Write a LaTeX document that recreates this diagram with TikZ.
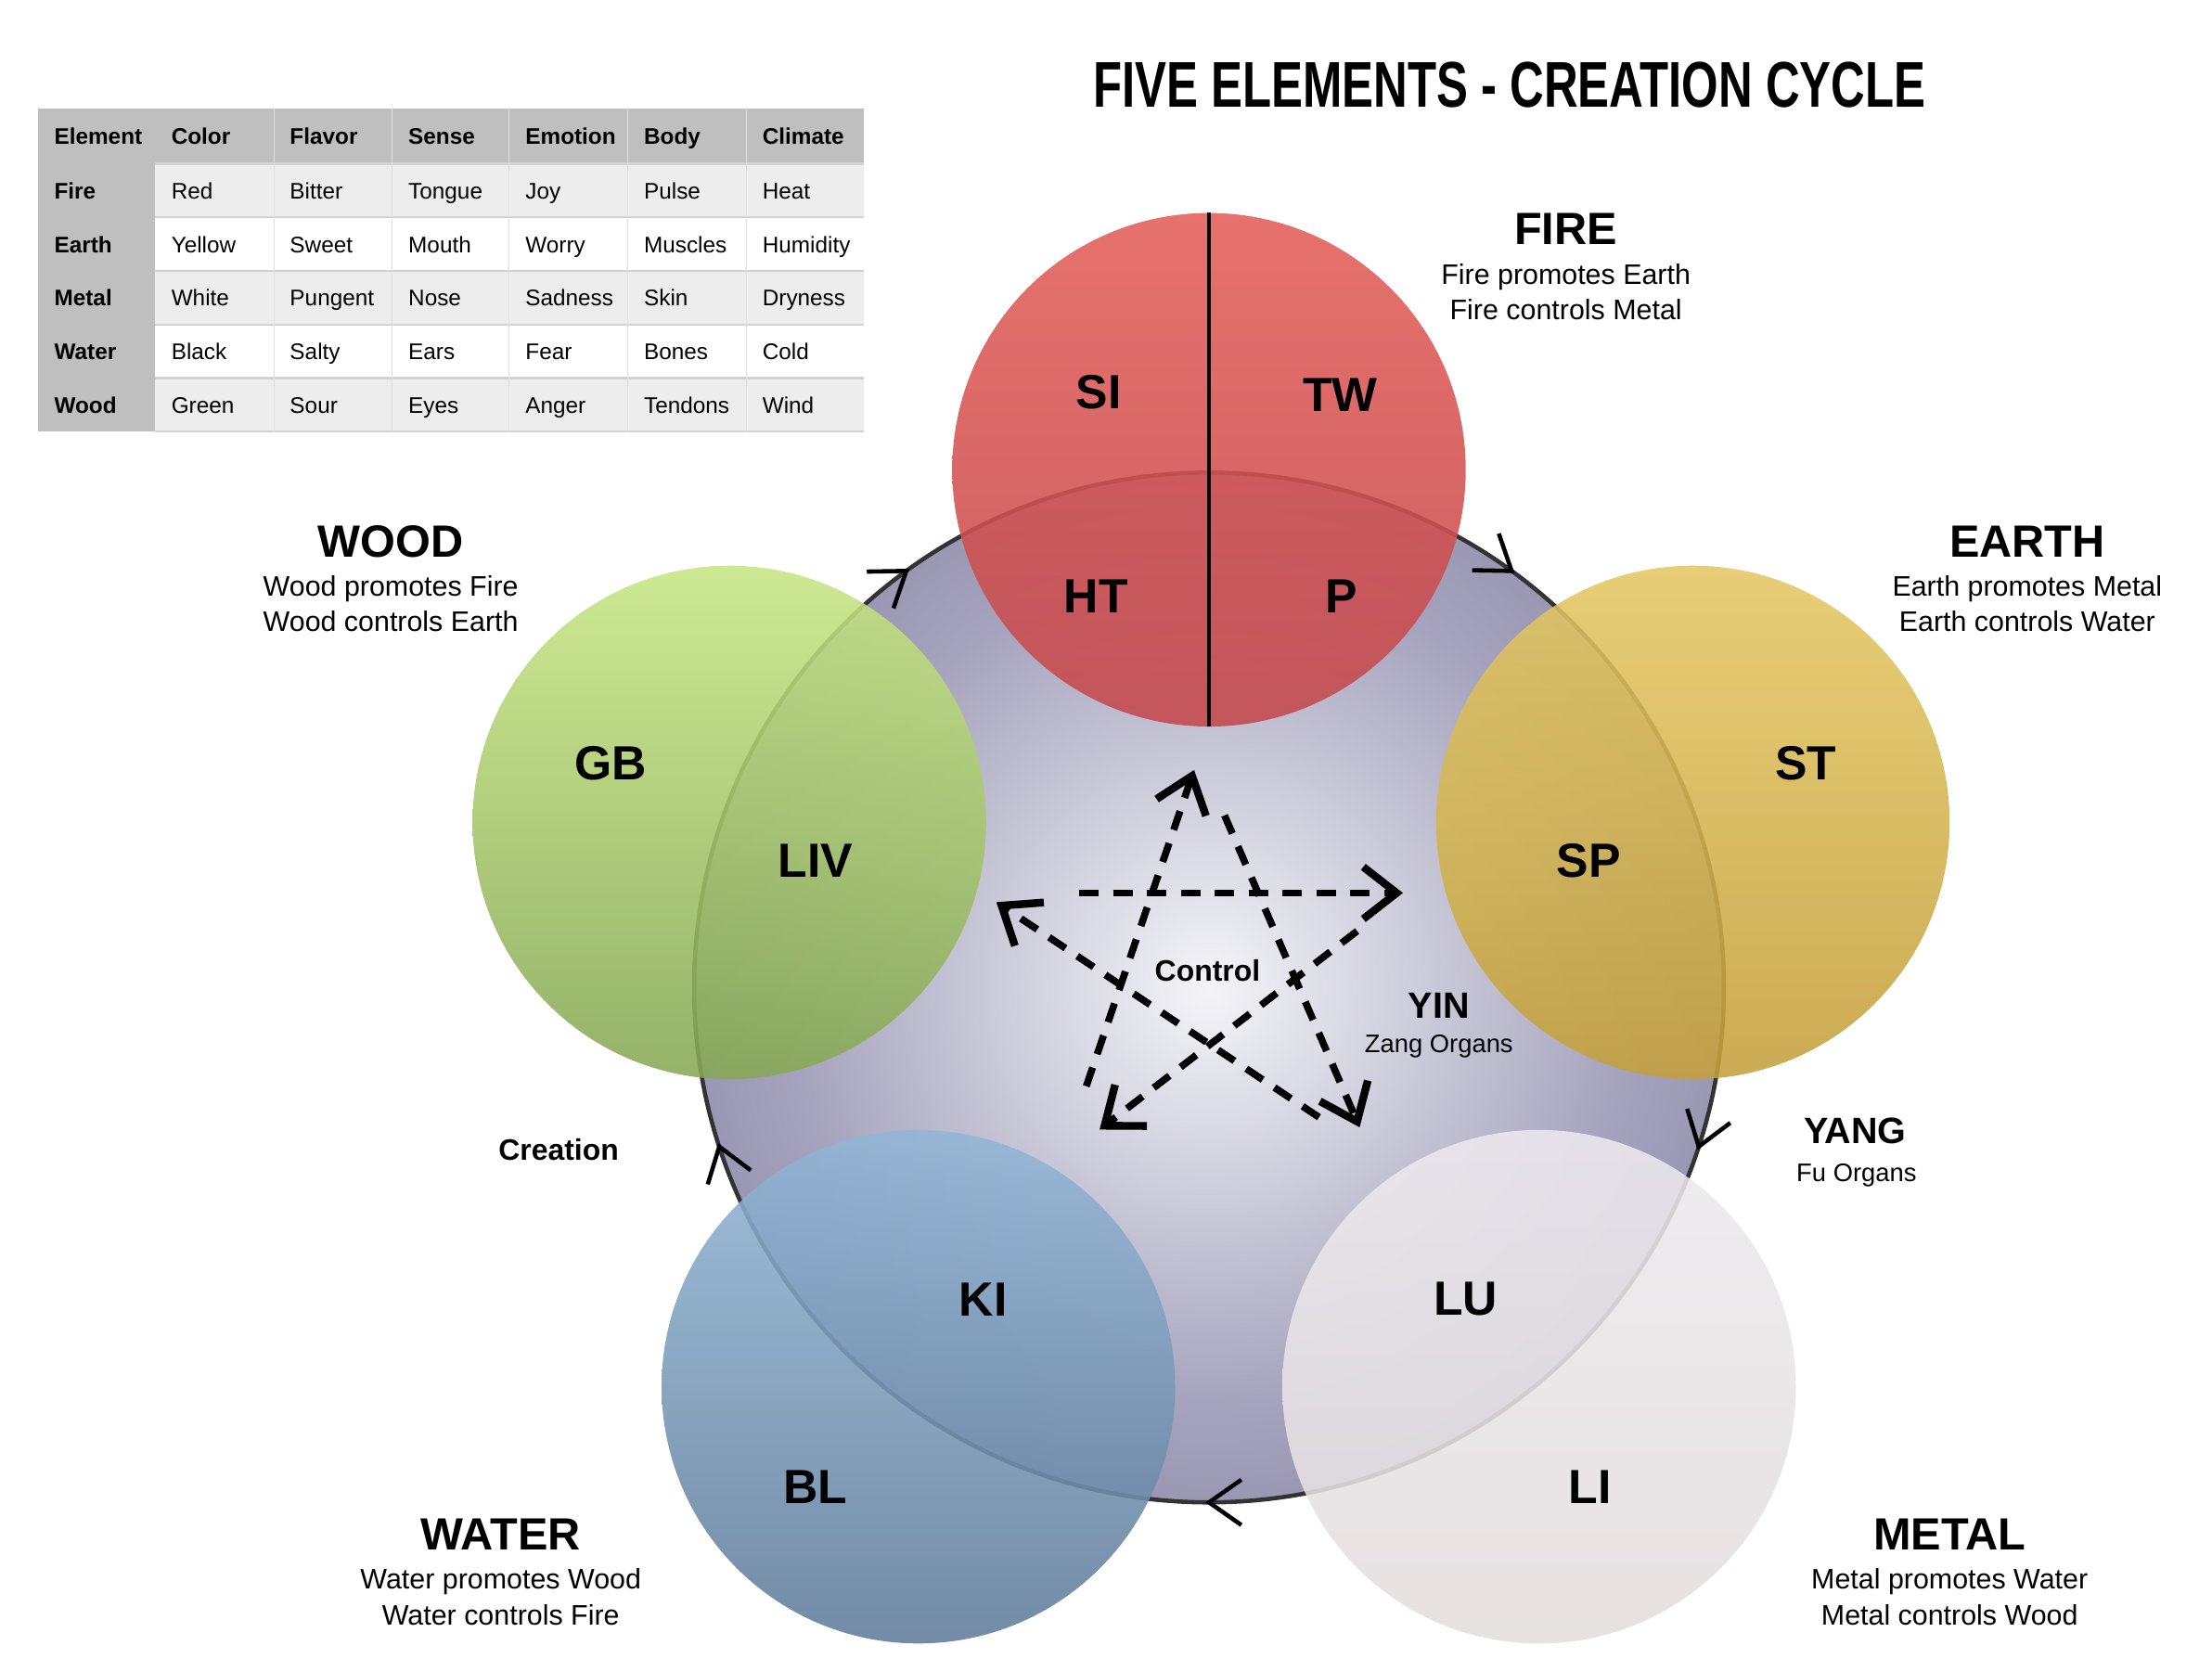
\documentclass[tikz,border=0pt]{standalone}
\usepackage{fontspec}
\usepackage{graphicx}
\setmainfont{Liberation Sans}
\usetikzlibrary{arrows.meta,calc}
\definecolor{cin}{HTML}{F4F4F8}
\definecolor{cmid}{HTML}{A3A1BB}
\definecolor{cout}{HTML}{615D85}
\pgfdeclareradialshading{bigrad}{\pgfpoint{0bp}{0bp}}{color(0bp)=(cin); color(21bp)=(cmid); color(50bp)=(cout)}
\tikzset{
 el/.style={circle,minimum size=364pt,inner sep=0pt,fill opacity=0.88,draw=none},
 org/.style={font=\fontsize{34}{36}\selectfont\bfseries},
 ttl/.style={font=\fontsize{32}{34}\selectfont\bfseries},
 sub/.style={font=\fontsize{20}{25}\selectfont,align=center},
 tb/.style={font=\fontsize{16}{18}\selectfont,anchor=base west},
 tbb/.style={tb,font=\fontsize{16}{18}\selectfont\bfseries},
 ctl/.style={line width=5pt,dash pattern=on 14pt off 10pt},
 ctltip/.style={line width=5.5pt,line join=miter,line cap=butt},
 chev/.style={line width=3pt,black}
}
\begin{document}
\begin{tikzpicture}[x=1pt,y=-1pt]
\useasboundingbox (0,0) rectangle (1568,1184);
\fill[white] (0,0) rectangle (1568,1184);
% title
\node (title) at (1070,60) {\resizebox{590pt}{32pt}{\bfseries FIVE ELEMENTS - CREATION CYCLE}};
% table
\fill[gray!50] (27,77) rectangle (612,116);
\fill[gray!50] (27,77) rectangle (110,306);
\foreach \r/\c in {0/gray!14,1/white,2/gray!14,3/white,4/gray!14}{
  \fill[\c] (110,116+38*\r) rectangle (612,154+38*\r);}
\foreach \r in {0,...,5}{\draw[gray!35,line width=1.5pt] (110,116+38*\r) -- (612,116+38*\r);}
\foreach \x in {194,278,361,445,529}{\draw[gray!25,line width=0.6pt] (\x,77) -- (\x,306);}
\foreach \t [count=\i from 0] in {Element,Color,Flavor,Sense,Emotion,Body,Climate}{
  \pgfmathsetmacro\xx{{27,110,194,278,361,445,529}[\i]+8}
  \node[tbb] (h\i) at (\xx,102) {\t};}
\foreach \row [count=\j from 0] in {{Fire,Red,Bitter,Tongue,Joy,Pulse,Heat},{Earth,Yellow,Sweet,Mouth,Worry,Muscles,Humidity},{Metal,White,Pungent,Nose,Sadness,Skin,Dryness},{Water,Black,Salty,Ears,Fear,Bones,Cold},{Wood,Green,Sour,Eyes,Anger,Tendons,Wind}}{
  \foreach \t [count=\i from 0] in \row {
    \pgfmathsetmacro\xx{{27,110,194,278,361,445,529}[\i]+8}
    \ifnum\i=0 \node[tbb] (c\j\i) at (\xx,141+38*\j) {\t};
    \else \node[tb] (c\j\i) at (\xx,141+38*\j) {\t};\fi}}
% big circle
\node[circle,minimum size=730pt,inner sep=0pt,shading=bigrad,draw=black!80,line width=3pt] (big) at (857,700) {};
% element circles
\node[el,top color={rgb,255:red,228;green,94;blue,88},bottom color={rgb,255:red,196;green,72;blue,76}] (fire) at (857,333) {};
\node[el,top color={rgb,255:red,228;green,200;blue,100},bottom color={rgb,255:red,196;green,160;blue,60}] (earth) at (1200,583) {};
\node[el,top color={rgb,255:red,198;green,230;blue,132},bottom color={rgb,255:red,134;green,168;blue,84}] (wood) at (517,583) {};
\node[el,top color={rgb,255:red,146;green,182;blue,214},bottom color={rgb,255:red,96;green,124;blue,154}] (water) at (651,983) {};
\node[el,top color={rgb,255:red,236;green,234;blue,238},bottom color={rgb,255:red,228;green,222;blue,222}] (metal) at (1091,983) {};
\draw[line width=3pt] (fire.north) -- (fire.south);
% organ labels
\node[org] (si) at (779,278) {SI};
\node[org] (tw) at (950,280) {TW};
\node[org] (ht) at (777,423) {HT};
\node[org] (p) at (951,423) {P};
\node[org] (gb) at (433,541) {GB};
\node[org] (liv) at (578,610) {LIV};
\node[org] (sp) at (1126,610) {SP};
\node[org] (stl) at (1280,541) {ST};
\node[org] (ki) at (697,921) {KI};
\node[org] (bl) at (578,1054) {BL};
\node[org] (lu) at (1039,921) {LU};
\node[org] (li) at (1127,1054) {LI};
% element titles
\node[ttl] (tfire) at (1110,162) {FIRE};
\node[sub] (sfire) at (1110,207) {Fire promotes Earth\\Fire controls Metal};
\node[ttl] (tearth) at (1437,384) {EARTH};
\node[sub] (searth) at (1437,428) {Earth promotes Metal\\Earth controls Water};
\node[ttl] (twood) at (277,384) {WOOD};
\node[sub] (swood) at (277,428) {Wood promotes Fire\\Wood controls Earth};
\node[ttl] (twater) at (355,1088) {WATER};
\node[sub] (swater) at (355,1132) {Water promotes Wood\\Water controls Fire};
\node[ttl] (tmetal) at (1382,1088) {METAL};
\node[sub] (smetal) at (1382,1132) {Metal promotes Water\\Metal controls Wood};
\node[font=\fontsize{26}{28}\selectfont\bfseries] (yang) at (1315,802) {YANG};
\node[font=\fontsize{18}{20}\selectfont] (fu) at (1316,833) {Fu Organs};
\node[font=\fontsize{26}{28}\selectfont\bfseries] (yin) at (1020,713) {YIN};
\node[font=\fontsize{18}{20}\selectfont] (zang) at (1020,742) {Zang Organs};
\node[font=\fontsize{21}{23}\selectfont\bfseries] (creation) at (396,815) {Creation};
\node[font=\fontsize{21}{23}\selectfont\bfseries] (control) at (856,688) {Control};
% control star
\coordinate (s1a) at (770,770); \coordinate (s1b) at (845,550);
\coordinate (s2a) at (868,578); \coordinate (s2b) at (962,795);
\coordinate (s3a) at (765,633); \coordinate (s3b) at (990,633);
\coordinate (s4a) at (962,660); \coordinate (s4b) at (783,798);
\coordinate (s5a) at (935,792); \coordinate (s5b) at (710,642);
\foreach \i in {1,...,5}{
  \draw[ctl] (s\i a) -- ($(s\i b)!4pt!(s\i a)$);
  \draw[ctltip] ($(s\i b)!30pt!38:(s\i a)$) -- (s\i b) -- ($(s\i b)!30pt!-38:(s\i a)$);}
% creation chevrons
\foreach \p [count=\k] in {126,54,-18,-90,198}{
  \coordinate (cv\k) at ($(big.center)+(\p:365pt)$);
  \draw[chev] ($(cv\k)+(\p+125:28pt)$) -- (cv\k) -- ($(cv\k)+(\p+55:28pt)$);}
\end{tikzpicture}
\end{document}
